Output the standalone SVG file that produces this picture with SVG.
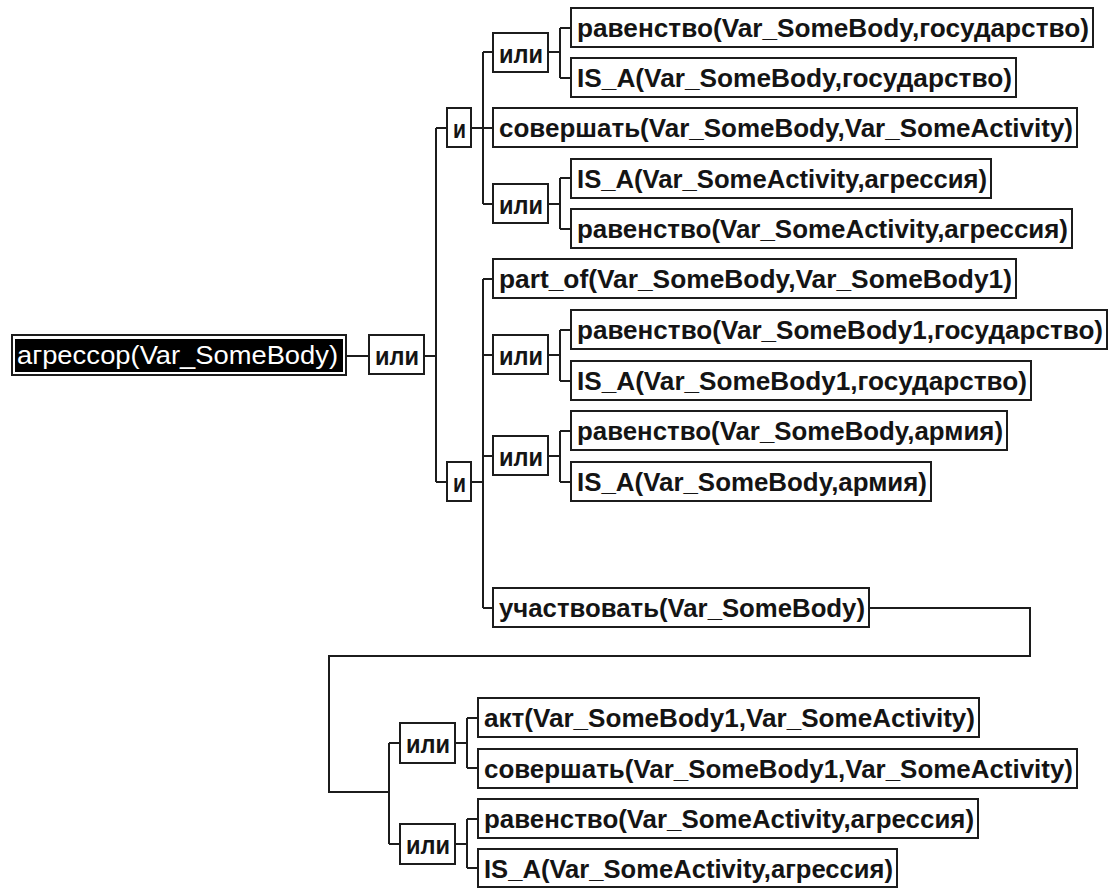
<svg xmlns="http://www.w3.org/2000/svg" width="1112" height="888" viewBox="0 0 1112 888">
<style>
.box{fill:#fff;stroke:#1c1c1c;stroke-width:2}
.t{font-family:"Liberation Sans",Arial,sans-serif;font-size:25px;font-weight:bold;fill:#141414}
.rt{font-family:"Liberation Sans",Arial,sans-serif;font-size:25px;fill:#fff}
.c{fill:none;stroke:#1c1c1c;stroke-width:2}
</style>
<rect width="1112" height="888" fill="#fff"/>
<g id="connectors">
<path class="c" d="M347 356H368"/>
<path class="c" d="M425 356H436M436 128V482M436 128H446M436 482H446"/>
<path class="c" d="M472 128H483M483 52V204M483 52H492M483 128H492M483 204H492"/>
<path class="c" d="M549 52H560M560 28V78M560 28H570M560 78H570"/>
<path class="c" d="M549 204H560M560 178V229M560 178H570M560 229H570"/>
<path class="c" d="M472 482H483M483 279V608M483 279H492M483 355H492M483 456H492M483 608H492"/>
<path class="c" d="M549 355H560M560 330V381M560 330H570M560 381H570"/>
<path class="c" d="M549 456H560M560 431V482M560 431H570M560 482H570"/>
<path class="c" d="M870 608H1030V656H329V792H389M389 743V844M389 743H399M389 844H399"/>
<path class="c" d="M456 743H467M467 718V768M467 718H477M467 768H477"/>
<path class="c" d="M456 844H467M467 819V868M467 819H477M467 868H477"/>
</g>
<g id="n_root">
<rect class="box" x="12" y="335" width="334" height="40"/>
<rect x="15" y="339" width="328" height="33" fill="#000"/>
<text class="rt" x="17" y="364" textLength="321" lengthAdjust="spacingAndGlyphs">агрессор(Var_SomeBody)</text>
</g>
<g id="n_or0"><rect class="box" x="369" y="335" width="55" height="39"/><text class="t" x="375" y="365" textLength="44" lengthAdjust="spacingAndGlyphs">или</text></g>
<g id="n_and1"><rect class="box" x="447" y="108" width="24" height="39"/><text class="t" x="453" y="138" textLength="13" lengthAdjust="spacingAndGlyphs">и</text></g>
<g id="n_and2"><rect class="box" x="447" y="462" width="24" height="39"/><text class="t" x="453" y="492" textLength="13" lengthAdjust="spacingAndGlyphs">и</text></g>
<g id="n_or1a"><rect class="box" x="493" y="33" width="55" height="39"/><text class="t" x="499" y="63" textLength="44" lengthAdjust="spacingAndGlyphs">или</text></g>
<g id="n_or1b"><rect class="box" x="493" y="184" width="55" height="39"/><text class="t" x="499" y="214" textLength="44" lengthAdjust="spacingAndGlyphs">или</text></g>
<g id="n_or2a"><rect class="box" x="493" y="335" width="55" height="39"/><text class="t" x="499" y="365" textLength="44" lengthAdjust="spacingAndGlyphs">или</text></g>
<g id="n_or2b"><rect class="box" x="493" y="436" width="55" height="39"/><text class="t" x="499" y="466" textLength="44" lengthAdjust="spacingAndGlyphs">или</text></g>
<g id="n_or3a"><rect class="box" x="400" y="723" width="55" height="40"/><text class="t" x="406" y="753" textLength="44" lengthAdjust="spacingAndGlyphs">или</text></g>
<g id="n_or3b"><rect class="box" x="400" y="824" width="55" height="40"/><text class="t" x="406" y="854" textLength="44" lengthAdjust="spacingAndGlyphs">или</text></g>
<g id="n_l1"><rect class="box" x="571" y="8" width="522" height="39"/><text class="t" x="577" y="37" textLength="512" lengthAdjust="spacingAndGlyphs">равенство(Var_SomeBody,государство)</text></g>
<g id="n_l2"><rect class="box" x="571" y="58" width="445" height="39"/><text class="t" x="577" y="87" textLength="435" lengthAdjust="spacingAndGlyphs">IS_A(Var_SomeBody,государство)</text></g>
<g id="n_l3"><rect class="box" x="493" y="108" width="584" height="39"/><text class="t" x="499" y="137" textLength="574" lengthAdjust="spacingAndGlyphs">совершать(Var_SomeBody,Var_SomeActivity)</text></g>
<g id="n_l4"><rect class="box" x="571" y="159" width="420" height="39"/><text class="t" x="577" y="188" textLength="410" lengthAdjust="spacingAndGlyphs">IS_A(Var_SomeActivity,агрессия)</text></g>
<g id="n_l5"><rect class="box" x="571" y="209" width="501" height="39"/><text class="t" x="577" y="238" textLength="491" lengthAdjust="spacingAndGlyphs">равенство(Var_SomeActivity,агрессия)</text></g>
<g id="n_l6"><rect class="box" x="493" y="259" width="523" height="39"/><text class="t" x="499" y="288" textLength="513" lengthAdjust="spacingAndGlyphs">part_of(Var_SomeBody,Var_SomeBody1)</text></g>
<g id="n_l7"><rect class="box" x="571" y="310" width="536" height="39"/><text class="t" x="577" y="339" textLength="526" lengthAdjust="spacingAndGlyphs">равенство(Var_SomeBody1,государство)</text></g>
<g id="n_l8"><rect class="box" x="571" y="361" width="460" height="39"/><text class="t" x="577" y="390" textLength="450" lengthAdjust="spacingAndGlyphs">IS_A(Var_SomeBody1,государство)</text></g>
<g id="n_l9"><rect class="box" x="571" y="411" width="436" height="39"/><text class="t" x="577" y="440" textLength="426" lengthAdjust="spacingAndGlyphs">равенство(Var_SomeBody,армия)</text></g>
<g id="n_l10"><rect class="box" x="571" y="462" width="360" height="39"/><text class="t" x="577" y="491" textLength="350" lengthAdjust="spacingAndGlyphs">IS_A(Var_SomeBody,армия)</text></g>
<g id="n_l11"><rect class="box" x="493" y="588" width="376" height="39"/><text class="t" x="499" y="617" textLength="366" lengthAdjust="spacingAndGlyphs">участвовать(Var_SomeBody)</text></g>
<g id="n_l12"><rect class="box" x="478" y="698" width="501" height="39"/><text class="t" x="484" y="727" textLength="491" lengthAdjust="spacingAndGlyphs">акт(Var_SomeBody1,Var_SomeActivity)</text></g>
<g id="n_l13"><rect class="box" x="478" y="749" width="599" height="39"/><text class="t" x="484" y="778" textLength="589" lengthAdjust="spacingAndGlyphs">совершать(Var_SomeBody1,Var_SomeActivity)</text></g>
<g id="n_l14"><rect class="box" x="478" y="799" width="500" height="39"/><text class="t" x="484" y="828" textLength="490" lengthAdjust="spacingAndGlyphs">равенство(Var_SomeActivity,агрессия)</text></g>
<g id="n_l15"><rect class="box" x="478" y="849" width="419" height="38"/><text class="t" x="484" y="878" textLength="409" lengthAdjust="spacingAndGlyphs">IS_A(Var_SomeActivity,агрессия)</text></g>
</svg>
